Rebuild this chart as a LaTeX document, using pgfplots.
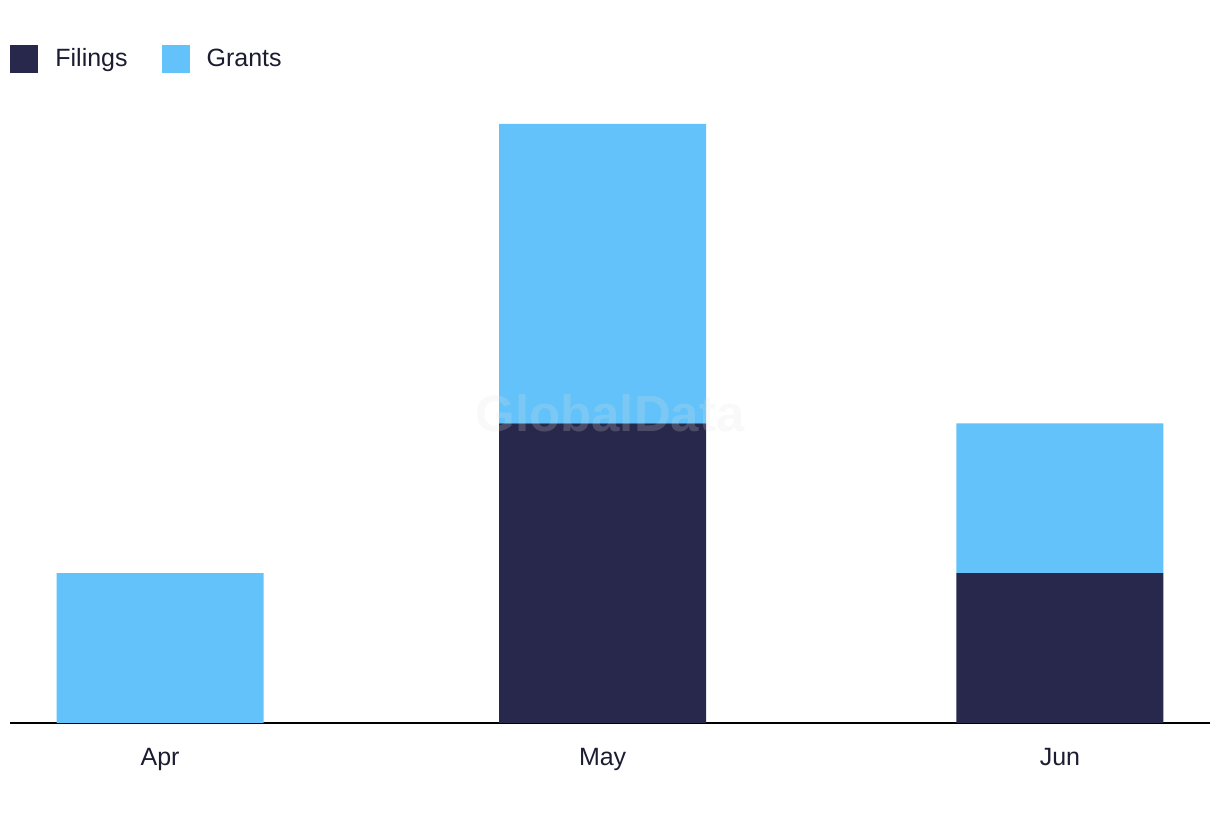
\documentclass[border=0pt]{standalone}
\usepackage{fontspec}
\setmainfont{Liberation Sans}
\usepackage{pgfplots}
\pgfplotsset{compat=1.18}
\definecolor{navy}{HTML}{28284C}
\definecolor{sky}{HTML}{62C2F9}
\definecolor{txt}{HTML}{1C1C30}
\begin{document}
\begin{tikzpicture}
\path[use as bounding box] (0,0) rectangle (610pt,411pt);
\begin{axis}[at={(5pt,49.5pt)}, anchor=south west, scale only axis,
 width=600pt, height=311.5pt,
 xmin=-10.17, xmax=71.17, ymin=0, ymax=4.16,
 ybar stacked, bar width=103.5pt,
 axis x line=bottom, axis y line=none,
 axis line style={black, line width=0.75pt, -},
 xtick={0,30,61}, xticklabels={Apr,May,Jun}, major tick length=0, ytick=\empty,
 tick label style={font=\fontsize{12.5}{15}\selectfont, text=txt},
 xticklabel style={yshift=-9pt},
 legend style={at={(0,1)}, anchor=west, yshift=20.5pt, draw=none, fill=none,
   legend columns=2, font=\fontsize{12.5}{15}\selectfont, text=txt,
   /tikz/every even column/.append style={column sep=15pt}, inner sep=0pt},
 legend image code/.code={\fill[#1] (0pt,-7pt) rectangle (14pt,7pt); \path (20.5pt,0pt);},
 ]
\addplot[fill=navy, draw=none] coordinates {(0,0) (30,2) (61,1)};
\addplot[fill=sky, draw=none] coordinates {(0,1) (30,2) (61,1)};
\legend{Filings, Grants}
\coordinate (wm) at (axis cs:30.5,2.07);
\end{axis}
\node[text=black!12, opacity=0.2, font=\bfseries\fontsize{25.5}{28}\selectfont] at (wm) {GlobalData};
\end{tikzpicture}
\end{document}
